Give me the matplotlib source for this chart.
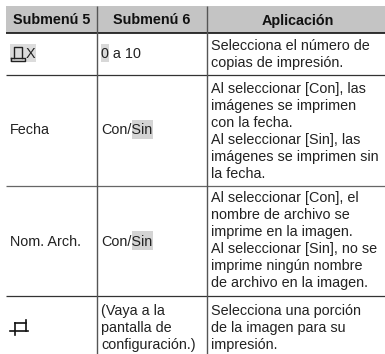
import matplotlib
matplotlib.use('Agg')
import matplotlib.pyplot as plt
from matplotlib.patches import Rectangle

plt.rcParams['font.family'] = ['Liberation Sans', 'DejaVu Sans']

# tresc tabeli
headers = ['Submenú 5', 'Submenú 6', 'Aplicación']
col1 = ['X', 'Fecha', 'Nom. Arch.']
col2 = [['0 a 10'], ['Con/Sin'], ['Con/Sin'],
        ['(Vaya a la', 'pantalla de', 'configuración.)']]
col3 = [['Selecciona el número de', 'copias de impresión.'],
        ['Al seleccionar [Con], las', 'imágenes se imprimen', 'con la fecha.',
         'Al seleccionar [Sin], las', 'imágenes se imprimen sin', 'la fecha.'],
        ['Al seleccionar [Con], el', 'nombre de archivo se', 'imprime en la imagen.',
         'Al seleccionar [Sin], no se', 'imprime ningún nombre', 'de archivo en la imagen.'],
        ['Selecciona una porción', 'de la imagen para su', 'impresión.']]

# uklad w pikselach
W, H = 385, 354
left, right = 6, 385
vlines = [96.5, 206.5]
hlines = [33, 75, 186, 296]
top = 6
line_h = 17.1
col1_y = [53.5, 130, 242]
col2_y = [53.5, 130, 242, 310.5]
col3_y = [46, 88.5, 198, 310.5]
fs = 10.4

fig = plt.figure(figsize=(W / 100, H / 100), dpi=100)
ax = fig.add_axes([0, 0, 1, 1])
ax.set_xlim(0, W)
ax.set_ylim(H, 0)
ax.axis('off')

# naglowek
ax.add_patch(Rectangle((left, top), right - left, hlines[0] - top, color='#c4c4c4', lw=0))
centers = [51.5, 151.5, 297.5]
for x, name in zip(centers, headers):
    ax.text(x, 20.5, name, ha='center', va='center', fontsize=fs, fontweight='bold', color='#111111')

# szare podswietlenia
ax.add_patch(Rectangle((10, 44), 26, 18, color='#dcdcdc', lw=0))
ax.add_patch(Rectangle((101, 44), 8, 18, color='#d8d8d8', lw=0))
ax.add_patch(Rectangle((132, 120), 21, 19, color='#d4d4d4', lw=0))
ax.add_patch(Rectangle((132, 231), 21, 19, color='#d4d4d4', lw=0))

# linie
for y, c in zip(hlines[1:], ['#333333', '#666666', '#333333']):
    ax.plot([left, right], [y, y], color=c, lw=0.9, solid_capstyle='butt')
ax.plot([left, right], [hlines[0], hlines[0]], color='#111111', lw=1.2, solid_capstyle='butt')
for x in vlines:
    ax.plot([x, x], [top, H], color='#555555', lw=1.0, solid_capstyle='butt')

# tekst
ax.text(26, col1_y[0], col1[0], va='center', fontsize=fs, color='#222222')
for i in [1, 2]:
    ax.text(10, col1_y[i], col1[i], va='center', fontsize=fs, color='#222222')
for i in range(4):
    for j, line in enumerate(col2[i]):
        ax.text(101, col2_y[i] + j * line_h, line, va='center', fontsize=fs, color='#222222')
    for j, line in enumerate(col3[i]):
        ax.text(211, col3_y[i] + j * line_h, line, va='center', fontsize=fs, color='#222222')

# ikona drukarki
ax.plot([14, 14, 22, 22], [58, 47, 47, 58], color='#222222', lw=1.0)
ax.plot([11, 25, 25, 11, 11], [57.5, 57.5, 60.5, 60.5, 57.5], color='#222222', lw=1.0)

# ikona kadrowania
ax.plot([10, 28], [331, 331], color='#111111', lw=1.2)
ax.plot([15, 26], [323, 323], color='#111111', lw=1.2)
ax.plot([15, 15], [323, 335], color='#111111', lw=1.2)
ax.plot([25.5, 25.5], [320, 331], color='#111111', lw=1.2)

fig.savefig('out.png', dpi=100)
